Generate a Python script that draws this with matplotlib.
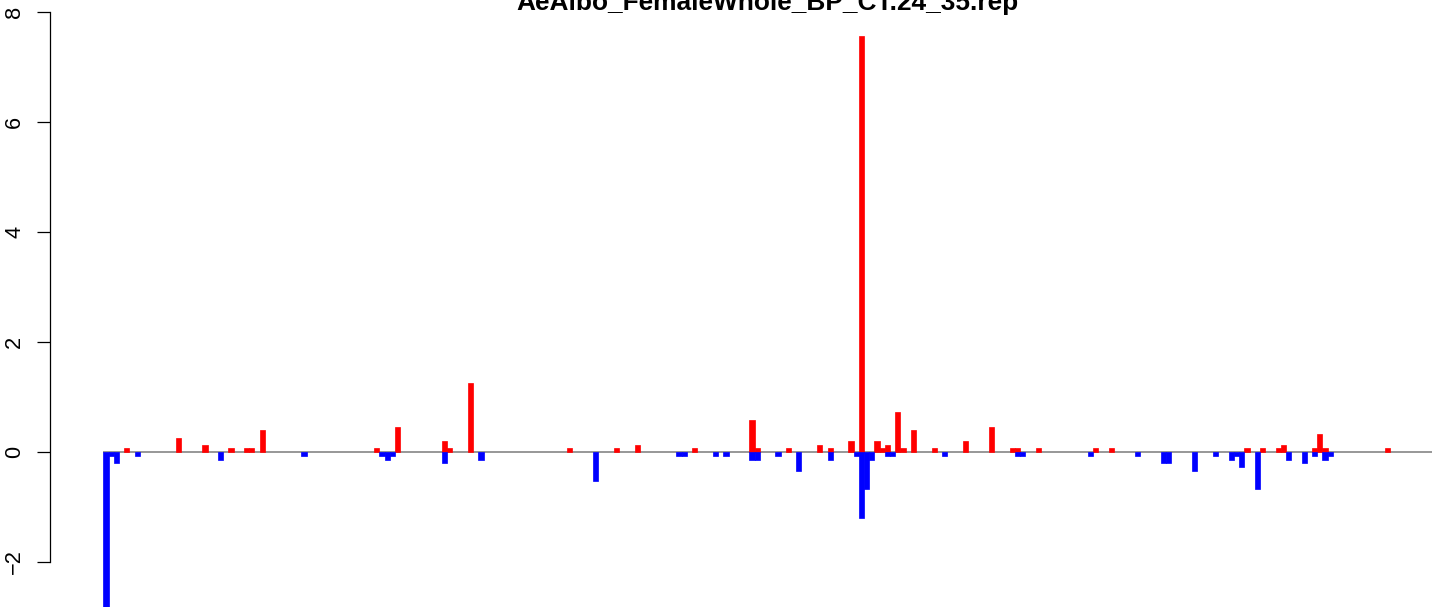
import matplotlib
matplotlib.use("Agg")
import matplotlib.pyplot as plt

plt.rcParams['font.family'] = ['Liberation Sans', 'DejaVu Sans']

title = "AeAlbo_FemaleWhole_BP_CT.24_35.rep"
n_slots = 255
yticks = [-2, 0, 2, 4, 6, 8]

red_idx = [4, 14, 19, 24, 27, 28, 30, 52, 56, 65, 66, 70, 89, 98, 102, 113,
           124, 125, 131, 137, 139, 143, 145, 148, 149, 150, 152, 153, 155,
           159, 165, 170, 174, 175, 179, 190, 193, 219, 222, 225, 226, 232,
           233, 234, 246]
red_val = [0.07, 0.25, 0.13, 0.07, 0.07, 0.07, 0.4, 0.07, 0.45, 0.2, 0.07,
           1.25, 0.07, 0.07, 0.13, 0.07, 0.58, 0.07, 0.07, 0.13, 0.07, 0.2,
           7.56, 0.2, 0.07, 0.13, 0.73, 0.07, 0.4, 0.07, 0.2, 0.45, 0.07,
           0.07, 0.07, 0.07, 0.07, 0.07, 0.07, 0.07, 0.13, 0.07, 0.33, 0.07,
           0.07]

blue_idx = [0, 1, 2, 6, 22, 38, 53, 54, 55, 65, 72, 94, 110, 111, 117, 119,
            124, 125, 129, 133, 139, 144, 145, 146, 147, 150, 151, 161, 175,
            176, 189, 198, 203, 204, 209, 213, 216, 217, 218, 221, 227, 230,
            232, 234, 235]
blue_val = [-2.9, -0.07, -0.2, -0.07, -0.15, -0.07, -0.07, -0.15, -0.07,
            -0.2, -0.15, -0.53, -0.07, -0.07, -0.07, -0.07, -0.15, -0.15,
            -0.07, -0.35, -0.15, -0.07, -1.2, -0.67, -0.15, -0.07, -0.07,
            -0.07, -0.07, -0.07, -0.07, -0.07, -0.2, -0.2, -0.35, -0.07,
            -0.15, -0.07, -0.27, -0.67, -0.15, -0.2, -0.07, -0.15, -0.07]

W, H = 1444, 607
fig = plt.figure(figsize=(W / 100, H / 100), dpi=100)

# plot region (R-like: 4% extension on x), partly cropped at right/bottom
x0_px, x1_px = 50.2, 1485.0
y_top_px, y_bot_px = 10.9, 617.0
ax = fig.add_axes([x0_px / W, (H - y_bot_px) / H,
                   (x1_px - x0_px) / W, (y_bot_px - y_top_px) / H])
ax.set_xlim(-0.04 * n_slots, 1.04 * n_slots)
ax.set_ylim(-3.0, 8.02)
ax.patch.set_alpha(0)

ax.hlines(0, 0, n_slots, color='#7a7a7a', lw=1.1, zorder=1)
ax.bar(red_idx, red_val, width=1.0, align='edge', color='#ff0000',
       edgecolor='#ff0000', linewidth=0.5, zorder=2)
ax.bar(blue_idx, blue_val, width=1.0, align='edge', color='#0000ff',
       edgecolor='#0000ff', linewidth=0.5, zorder=2)

for s in ['top', 'right', 'bottom']:
    ax.spines[s].set_visible(False)
ax.spines['left'].set_bounds(-2, 8)
ax.spines['left'].set_linewidth(0.9)
ax.set_xticks([])
ax.set_yticks(yticks)
ax.set_yticklabels([str(t).replace('-', '\u2212') for t in yticks],
                   rotation=90, va='center', fontsize=15.7)
ax.tick_params(axis='y', length=9.4, width=0.9, pad=8.5)

fig.text(767.5 / W, (H - 10) / H, title, ha='center', va='baseline',
         fontsize=18.9, fontweight='bold')

fig.savefig('out.png', dpi=100)
